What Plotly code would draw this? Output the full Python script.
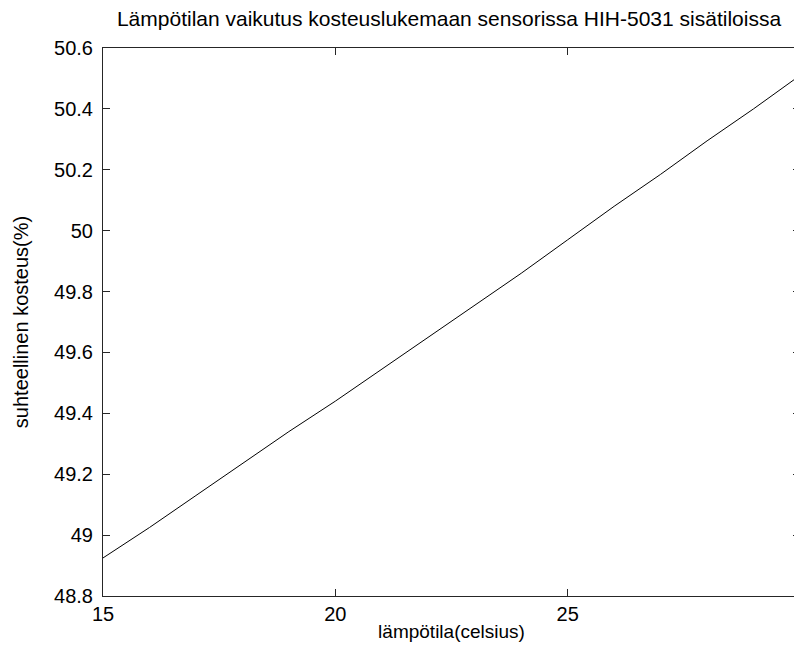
import plotly.graph_objects as go

temperature = [15, 16, 17, 18, 19, 20, 21, 22, 23, 24, 25, 26, 27, 28, 29, 30]
humidity = [48.925, 49.025, 49.13, 49.235, 49.34, 49.44, 49.545, 49.65, 49.755,
            49.86, 49.97, 50.08, 50.185, 50.295, 50.40, 50.51]

x_ticks = [15, 20, 25, 30]
y_ticks = [48.8, 49.0, 49.2, 49.4, 49.6, 49.8, 50.0, 50.2, 50.4, 50.6]
y_tick_text = ["48.8", "49", "49.2", "49.4", "49.6", "49.8", "50", "50.2", "50.4", "50.6"]

title_text = "Lämpötilan vaikutus kosteuslukemaan sensorissa HIH-5031 sisätiloissa"
x_title = "lämpötila(celsius)"
y_title = "suhteellinen kosteus(%)"

font = "Liberation Sans, Arial, sans-serif"
axis_color = "#262626"

fig = go.Figure()
fig.add_trace(go.Scatter(x=temperature, y=humidity, mode="lines",
                         line=dict(color="black", width=1), showlegend=False))

fig.update_layout(
    width=802, height=648,
    margin=dict(l=95, r=10, t=40, b=60),
    paper_bgcolor="white", plot_bgcolor="white",
    font=dict(family=font, size=20, color="black"),
    title=dict(text=title_text, x=441 / 802, xanchor="center",
               y=1 - 11 / 648, yanchor="middle", yref="container",
               font=dict(family=font, size=21, color="black")),
)
fig.update_xaxes(
    range=[15, 30], tickvals=x_ticks, ticktext=[str(v) for v in x_ticks],
    showgrid=False, zeroline=False,
    showline=True, linecolor=axis_color, linewidth=1, mirror="ticks",
    ticks="inside", ticklen=7, tickcolor=axis_color,
    tickfont=dict(family=font, size=20, color="black"),
    title=dict(text=x_title, standoff=0, font=dict(family=font, size=19, color="black")),
)
fig.update_yaxes(
    range=[48.8, 50.6], tickvals=y_ticks, ticktext=y_tick_text,
    showgrid=False, zeroline=False,
    showline=True, linecolor=axis_color, linewidth=1, mirror="ticks",
    ticks="inside", ticklen=7, tickcolor=axis_color,
    ticklabelstandoff=5,
    tickfont=dict(family=font, size=20, color="black"),
    title=dict(text=y_title, standoff=20, font=dict(family=font, size=20, color="black")),
)

fig.write_html("out.html")
